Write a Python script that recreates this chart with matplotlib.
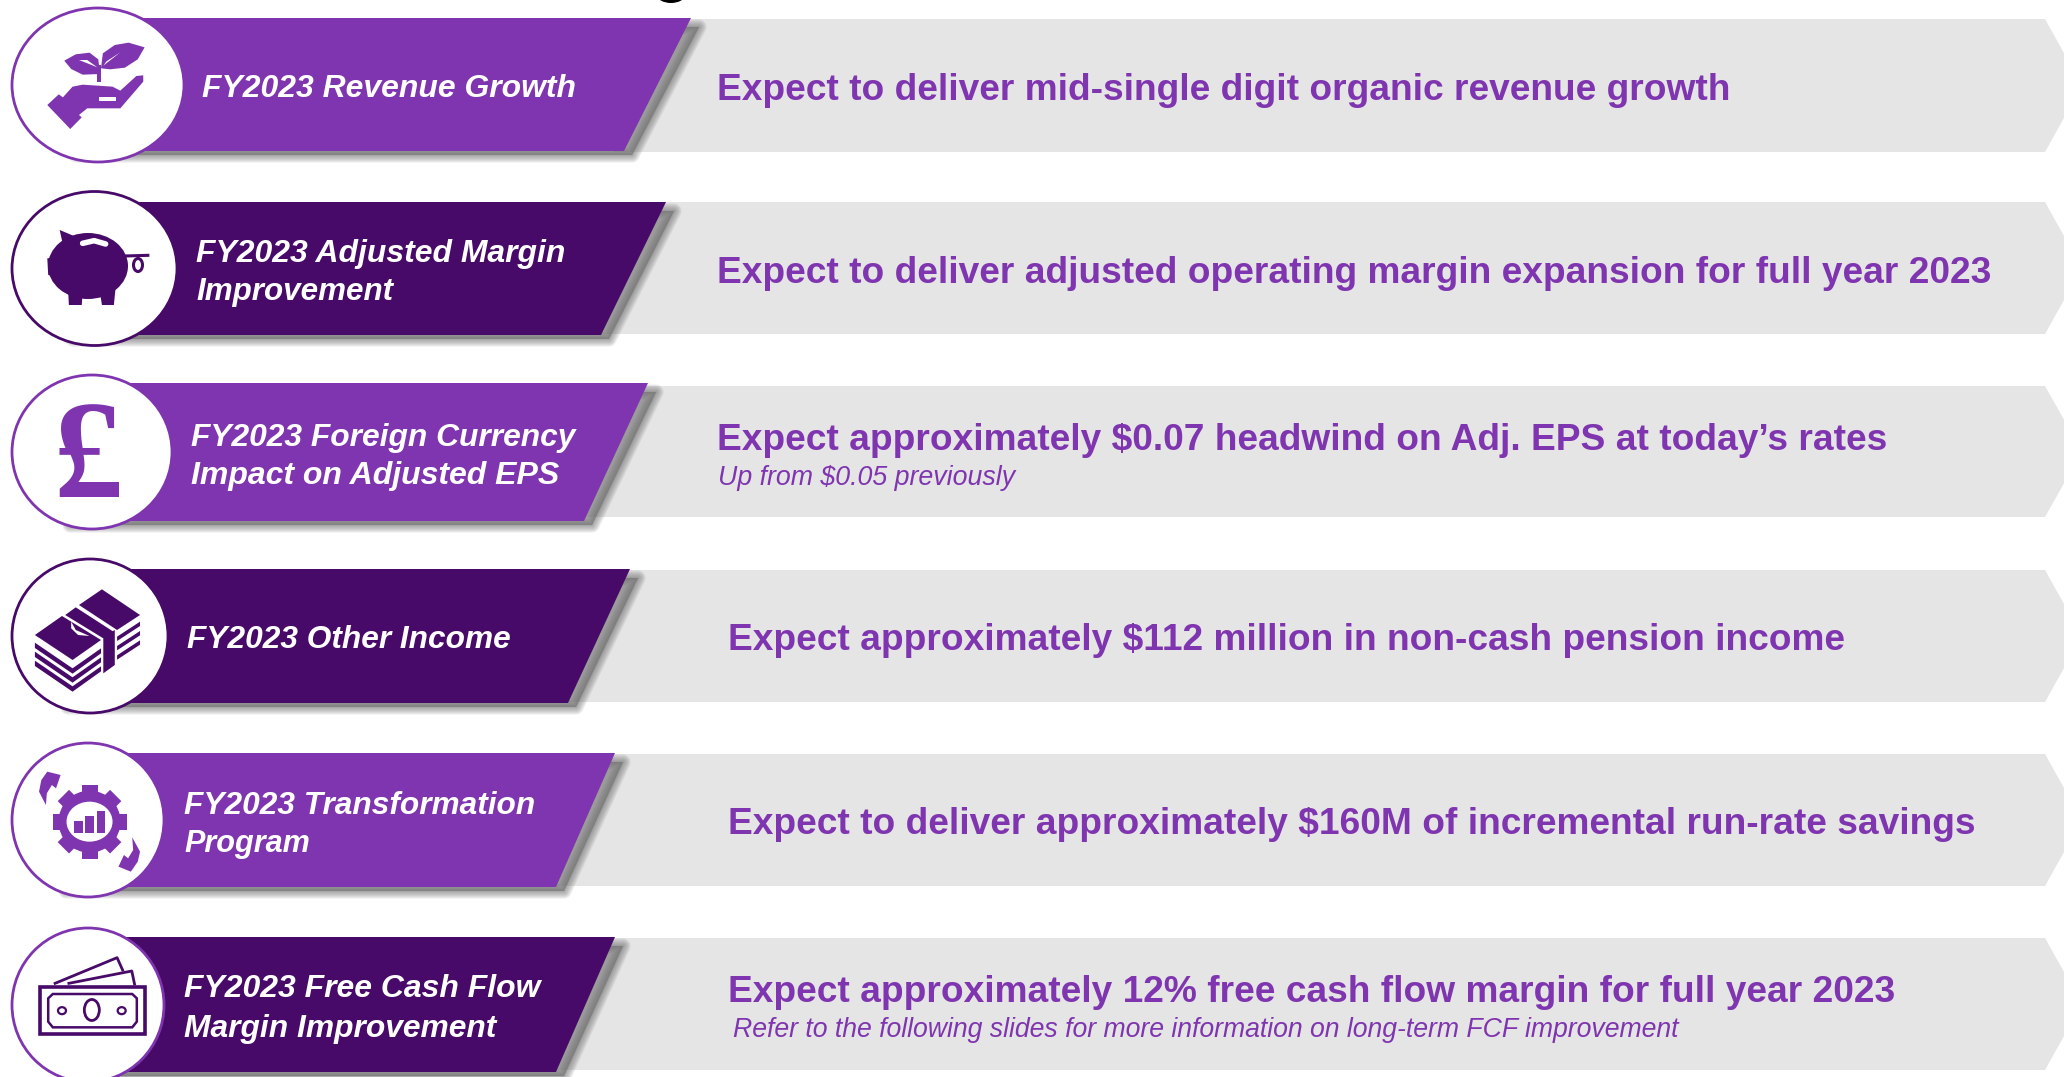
import numpy as np
import matplotlib
matplotlib.use("Agg")
import matplotlib.pyplot as plt
from matplotlib.patches import Ellipse, Polygon, Rectangle
from matplotlib.transforms import Affine2D

# Slide text
labels = [["FY2023 Revenue Growth"],
          ["FY2023 Adjusted Margin", "Improvement"],
          ["FY2023 Foreign Currency", "Impact on Adjusted EPS"],
          ["FY2023 Other Income"],
          ["FY2023 Transformation", "Program"],
          ["FY2023 Free Cash Flow", "Margin Improvement"]]
headlines = ["Expect to deliver mid-single digit organic revenue growth",
             "Expect to deliver adjusted operating margin expansion for full year 2023",
             "Expect approximately $0.07 headwind on Adj. EPS at today\u2019s rates",
             "Expect approximately $112 million in non-cash pension income",
             "Expect to deliver approximately $160M of incremental run-rate savings",
             "Expect approximately 12% free cash flow margin for full year 2023"]
subnotes = [None, None, "Up from $0.05 previously", None, None,
            "Refer to the following slides for more information on long-term FCF improvement"]

PURPLE = "#7F35AF"
DARK = "#470A68"
GREY = "#E5E5E5"
row_colors = [PURPLE, DARK, PURPLE, DARK, PURPLE, DARK]
ring_colors = [PURPLE, DARK, PURPLE, DARK, PURPLE, PURPLE]

# Layout in pixels of the slide
band_top = [18, 202, 383, 569, 753, 937]
band_bot = [151, 335, 521, 703, 887, 1072]
grey_top = [19, 202, 386, 570, 754, 938]
grey_bot = [152, 334, 517, 702, 886, 1070]
right_top = [691, 666, 648, 630, 615, 615]
right_bot = [624, 601, 584, 568, 556, 556]
circ_x = [98, 94.5, 92, 90, 88, 88]
circ_rx = [86, 82.5, 80, 78, 76, 76]
circ_y = [85, 268.5, 452, 636, 820, 1005]
label_x = [202, 196, 191, 187, 184, 184]
label_base = [[97], [262, 300], [446, 484], [648], [814, 852], [997, 1037]]
label_end = [[575], [564, 393], [576, 559], [511], [535, 310], [540, 496]]
head_x = [717, 717, 717, 728, 728, 728]
head_base = [100, 283, 450, 650, 834, 1002]
head_end = [1731, 1990, 1886, 1845, 1974, 1895]
sub_x = [None, None, 718, None, None, 733]
sub_base = [None, None, 485, None, None, 1037]
sub_end = [None, None, 1015, None, None, 1679]

fig = plt.figure(figsize=(20.64, 10.77), dpi=100)
ax = fig.add_axes([0, 0, 1, 1])
ax.set_xlim(0, 2064)
ax.set_ylim(1077, 0)
ax.axis("off")


def zpts(pts, oy=0):
    return [(x / 2.178, oy + y / 3) for x, y in pts]


def poly(pts, color, oy=0, z=6):
    ax.add_patch(Polygon(zpts(pts, oy), closed=True, fc=color, ec="none", zorder=z))


def fit_text(x, y, s, end, size, **kw):
    t = ax.text(x, y, s, fontsize=size, va="baseline", ha="left",
                family="Liberation Sans", zorder=8, **kw)
    w = t.get_window_extent(fig.canvas.get_renderer()).width
    t.set_fontsize(size * (end - x) / w)
    return t


# grey chevrons and shadows and banners
for i in range(6):
    t, b = grey_top[i], grey_bot[i]
    mid = (t + b) / 2
    ax.add_patch(Polygon([(right_bot[i] - 10, t), (2045, t), (2082, mid), (2045, b),
                          (right_bot[i] - 10, b)], fc=GREY, ec="none", zorder=1))
    st, sb = band_top[i] + 9, band_bot[i] + 4
    shadow = [(circ_x[i] - 22, st), (right_top[i] + 8, st), (right_bot[i] + 8, sb),
              (circ_x[i] - 22, sb)]
    for lw in [11, 9.5, 8, 6.5, 5, 3.5, 2, 1]:
        ax.add_patch(Polygon(shadow, fc="#707070", ec="#707070", lw=lw, alpha=0.11,
                             joinstyle="round", zorder=2))
    ax.add_patch(Polygon([(circ_x[i], band_top[i]), (right_top[i], band_top[i]),
                          (right_bot[i], band_bot[i]), (circ_x[i], band_bot[i])],
                         fc=row_colors[i], ec="none", zorder=3))
    ax.add_patch(Ellipse((circ_x[i], circ_y[i]), 2 * circ_rx[i], 154, fc="white",
                         ec=ring_colors[i], lw=2, zorder=5))

# bit of the cropped title above the first banner
ax.add_patch(Ellipse((671, -5), 28, 16, fc="black", ec="none", zorder=3))

# icon 1, plant in hand
c = PURPLE
poly([(220, 205), (224, 160), (250, 135), (280, 128), (315, 142), (300, 178), (272, 203), (240, 208)], c)
poly([(140, 182), (165, 163), (195, 158), (214, 178), (218, 222), (180, 224), (155, 207)], c)
poly([(211, 195), (220, 195), (220, 245), (211, 245)], c)
poly([(225, 197), (262, 157), (232, 184)], "white", z=7)
poly([(172, 180), (212, 202), (190, 180)], "white", z=7)
poly([(103, 315), (128, 283), (137, 292), (158, 260), (180, 254), (245, 260), (262, 272),
      (297, 228), (312, 226), (312, 245), (262, 325), (190, 325), (172, 345), (178, 352), (153, 387)], c)
poly([(215, 290), (252, 290), (252, 302), (215, 302)], "white", z=7)

# icon 2, piggy bank
c = DARK
ax.add_patch(Ellipse((88, 266), 80, 66, fc=c, ec="none", zorder=6))
poly([(130, 690), (168, 712), (170, 760), (142, 765)], c)
poly([(103, 775), (135, 770), (135, 832), (105, 825)], c)
poly([(148, 860), (180, 880), (178, 915), (150, 915)], c)
poly([(218, 880), (252, 860), (248, 915), (222, 915)], c)
ax.plot(*zip(*zpts([(180, 730), (205, 722), (230, 732)])), color="white", lw=4,
        solid_capstyle="round", zorder=7)
ax.plot(*zip(*zpts([(272, 768), (322, 766)])), color=c, lw=2.2, zorder=6)
ax.add_patch(Ellipse((138, 265), 9, 13, fc="white", ec=c, lw=2.2, zorder=6))

# icon 3, pound sign
ax.text(88, 497, "\u00a3", fontsize=100, family="Liberation Serif", weight="bold",
        color=PURPLE, ha="center", va="baseline", zorder=6)

# icon 4, stack of notes
c = DARK
poly([(222, 688), (305, 765), (255, 810), (172, 735)], c, 360)
poly([(142, 765), (165, 742), (247, 815), (225, 835)], c, 360)
poly([(76, 825), (135, 768), (220, 840), (158, 900)], c, 360)
for k in range(3):
    d = 27 * k
    poly([(76, 848 + d), (158, 925 + d), (220, 865 + d), (220, 880 + d), (158, 941 + d), (76, 864 + d)], c, 360)
    e = 28 * k
    poly([(255, 830 + e), (305, 785 + e), (305, 798 + e), (255, 843 + e)], c, 360)
poly([(225, 830), (250, 810), (250, 915), (225, 940)], c, 360)
poly([(155, 785), (165, 810), (195, 828), (170, 825), (155, 805)], "white", 360, z=7)

# icon 5, gear with bars and arrows
c = PURPLE
gx, gy = 195 / 2.178, 720 + 305 / 3
for a in np.arange(0, 180, 45):
    ax.add_patch(Rectangle((gx - 8, gy - 37), 16, 74, fc=c, ec="none", zorder=6,
                           transform=Affine2D().rotate_deg_around(gx, gy, a) + ax.transData))
ax.add_patch(Ellipse((gx, gy), 62, 62, fc=c, ec="none", zorder=6))
ax.add_patch(Ellipse((gx, gy), 46, 40, fc="white", ec="none", zorder=7))
for x0, x1, y0 in [(162, 180, 303), (186, 205, 288), (211, 229, 272)]:
    poly([(x0, y0), (x1, y0), (x1, 338), (x0, 338)], c, 720, z=8)
poly([(100, 255), (85, 215), (90, 180), (103, 155), (132, 165), (122, 205), (113, 195), (102, 220)], c, 720)
poly([(288, 352), (305, 395), (300, 425), (285, 455), (258, 440), (270, 405), (279, 415), (290, 390)], c, 720)

# icon 6, banknotes
c = DARK
ax.add_patch(Rectangle((87 / 2.178, 720 + 800 / 3), 228 / 2.178, 143 / 3, fc="white", ec=c, lw=2.6, zorder=7))
ax.add_patch(Polygon(zpts([(115, 822), (288, 822), (298, 835), (298, 905), (288, 922),
                           (115, 922), (105, 905), (105, 835)], 720), fc="white", ec=c, lw=1.8, zorder=7))
ax.add_patch(Ellipse((200 / 2.178, 720 + 870 / 3), 15, 21, fc="white", ec=c, lw=2, zorder=7))
ax.add_patch(Ellipse((135 / 2.178, 720 + 872 / 3), 8, 7, fc="white", ec=c, lw=1.6, zorder=7))
ax.add_patch(Ellipse((265 / 2.178, 720 + 872 / 3), 8, 7, fc="white", ec=c, lw=1.6, zorder=7))
ax.plot(*zip(*zpts([(120, 790), (255, 713), (267, 750)], 720)), color=c, lw=2, zorder=6)
ax.plot(*zip(*zpts([(150, 790), (287, 753), (293, 792)], 720)), color=c, lw=2, zorder=6)

# text
for i in range(6):
    for line, base, end in zip(labels[i], label_base[i], label_end[i]):
        fit_text(label_x[i], base, line, end, 22, color="white", weight="bold", style="italic")
    fit_text(head_x[i], head_base[i], headlines[i], head_end[i], 26, color=PURPLE, weight="bold")
    if subnotes[i]:
        fit_text(sub_x[i], sub_base[i], subnotes[i], sub_end[i], 19, color=PURPLE, style="italic")

fig.savefig("out.png", dpi=100)
